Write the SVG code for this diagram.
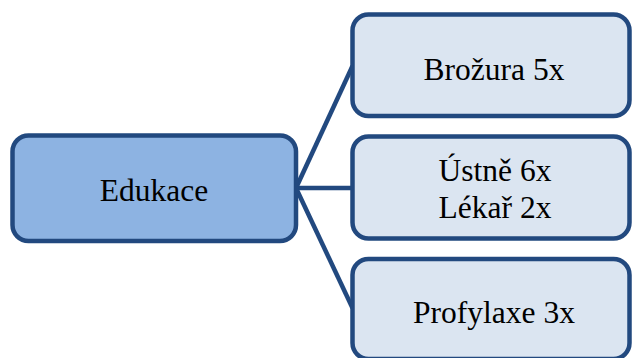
<svg xmlns="http://www.w3.org/2000/svg" width="632" height="358" viewBox="0 0 632 358">
  <style>
    .box { stroke: #22497F; stroke-width: 4.5; }
    .root { fill: #8DB3E2; }
    .leaf { fill: #DBE5F1; }
    .link { stroke: #22497F; stroke-width: 4.5; fill: none; }
    text { font-family: "Liberation Serif", "Times New Roman", serif; font-size: 31.5px; fill: #000; text-anchor: middle; }
  </style>
  <rect width="632" height="358" fill="#FFFFFF"/>
  <g id="connectors">
    <line class="link" x1="296" y1="188" x2="352.5" y2="66"/>
    <line class="link" x1="296" y1="188" x2="352.5" y2="188"/>
    <line class="link" x1="296" y1="188" x2="352.5" y2="308"/>
  </g>
  <g id="edukace">
    <rect class="box root" x="12.5" y="135.5" width="283.5" height="105.5" rx="16"/>
    <text x="154" y="201">Edukace</text>
  </g>
  <g id="brozura">
    <rect class="box leaf" x="352.5" y="14.5" width="277" height="101.5" rx="16"/>
    <text x="494" y="80">Brožura 5x</text>
  </g>
  <g id="ustne-lekar">
    <rect class="box leaf" x="352.5" y="136.5" width="277" height="102" rx="16"/>
    <text x="495" y="181">Ústně 6x</text>
    <text x="495" y="217.5">Lékař 2x</text>
  </g>
  <g id="profylaxe">
    <rect class="box leaf" x="352.5" y="259" width="277" height="100" rx="16"/>
    <text x="494" y="323">Profylaxe 3x</text>
  </g>
</svg>
